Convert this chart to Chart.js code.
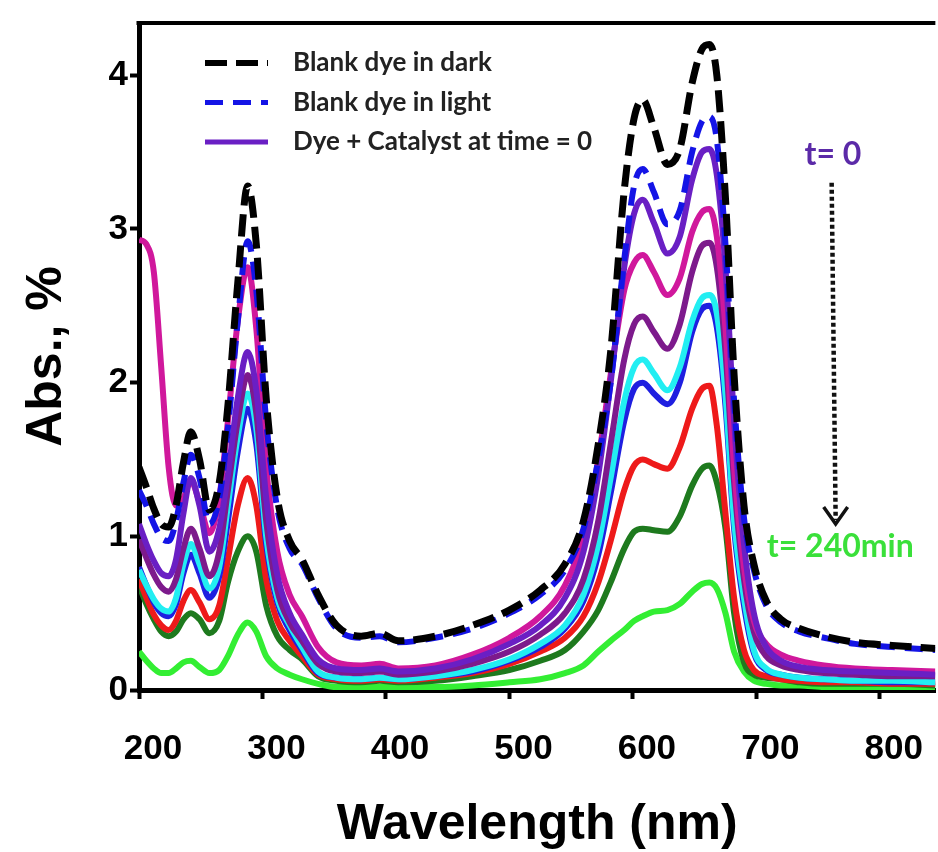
<!DOCTYPE html>
<html>
<head>
<meta charset="utf-8">
<script src="https://cdn.jsdelivr.net/npm/chart.js@4.4.0/dist/chart.umd.min.js"></script>
<style>
  html, body { margin: 0; padding: 0; background: #fff; }
  #wrap { width: 938px; height: 852px; position: relative; }
</style>
</head>
<body>
<div id="wrap"><canvas id="uv-chart"></canvas></div>
<script>
// wavelength grid (nm) shared by all spectra
const wavelengths = [200, 206, 212, 218, 224, 230, 236, 242, 249, 257, 265, 272, 280, 288, 295, 303, 312, 322, 332, 345,
  360, 380, 395, 410, 440, 470, 500, 525, 545, 560, 572, 582, 593, 601, 608, 617, 628, 638, 648, 656,
  662, 668, 675, 682, 690, 698, 708, 720, 735, 755, 780, 810, 845];

const blankDark = [1.45, 1.32, 1.18, 1.08, 1.06, 1.2, 1.48, 1.68, 1.5, 1.17, 1.35, 1.85, 2.65, 3.28, 2.9, 1.9, 1.25, 0.97, 0.85, 0.62,
  0.42, 0.35, 0.37, 0.32, 0.35, 0.42, 0.52, 0.65, 0.82, 1.1, 1.6, 2.2, 3.25, 3.72, 3.84, 3.66, 3.42, 3.52, 3.95, 4.17,
  4.2, 4.0, 3.2, 2.05, 1.2, 0.82, 0.58, 0.46, 0.4, 0.35, 0.31, 0.29, 0.27];
const blankLight = [1.3, 1.2, 1.08, 0.99, 0.97, 1.1, 1.35, 1.53, 1.38, 1.08, 1.25, 1.7, 2.4, 2.92, 2.6, 1.75, 1.18, 0.92, 0.82, 0.6,
  0.4, 0.34, 0.35, 0.31, 0.34, 0.4, 0.5, 0.62, 0.78, 1.05, 1.5, 2.0, 2.8, 3.28, 3.39, 3.24, 3.03, 3.12, 3.5, 3.7,
  3.73, 3.58, 2.9, 1.88, 1.12, 0.78, 0.55, 0.44, 0.38, 0.34, 0.3, 0.28, 0.26];
const catT0 = [1.08, 0.95, 0.84, 0.76, 0.74, 0.85, 1.15, 1.38, 1.2, 0.9, 1.05, 1.4, 1.9, 2.2, 1.95, 1.25, 0.75, 0.5, 0.36, 0.2,
  0.14, 0.13, 0.14, 0.12, 0.14, 0.2, 0.3, 0.42, 0.6, 0.9, 1.4, 2.0, 2.75, 3.1, 3.19, 3.04, 2.84, 2.95, 3.32, 3.5,
  3.52, 3.35, 2.75, 1.75, 0.95, 0.5, 0.28, 0.19, 0.15, 0.13, 0.12, 0.11, 0.1];
const catMagenta = [2.93, 2.9, 2.72, 2.1, 1.45, 1.2, 1.25, 1.36, 1.22, 1.02, 1.25, 1.75, 2.4, 2.75, 2.35, 1.45, 0.9, 0.62, 0.48, 0.28,
  0.18, 0.16, 0.17, 0.14, 0.16, 0.23, 0.34, 0.48, 0.68, 1.0, 1.5, 2.05, 2.6, 2.78, 2.83, 2.72, 2.57, 2.68, 2.98, 3.11,
  3.13, 2.95, 2.35, 1.45, 0.8, 0.45, 0.3, 0.23, 0.19, 0.16, 0.14, 0.13, 0.12];
const catDarkPurple = [0.98, 0.86, 0.75, 0.67, 0.64, 0.72, 0.92, 1.05, 0.92, 0.74, 0.9, 1.3, 1.75, 2.05, 1.8, 1.1, 0.65, 0.44, 0.32, 0.17,
  0.12, 0.11, 0.12, 0.1, 0.12, 0.17, 0.25, 0.36, 0.5, 0.72, 1.1, 1.6, 2.15, 2.38, 2.43, 2.33, 2.22, 2.38, 2.72, 2.89,
  2.91, 2.75, 2.2, 1.35, 0.72, 0.38, 0.22, 0.16, 0.13, 0.11, 0.1, 0.09, 0.09];
const catCyan = [0.78, 0.68, 0.59, 0.53, 0.51, 0.6, 0.82, 0.95, 0.82, 0.66, 0.8, 1.2, 1.65, 1.93, 1.7, 1.0, 0.6, 0.42, 0.28, 0.12,
  0.08, 0.07, 0.08, 0.07, 0.09, 0.13, 0.2, 0.3, 0.42, 0.62, 0.95, 1.38, 1.88, 2.1, 2.15, 2.06, 1.95, 2.1, 2.4, 2.55,
  2.57, 2.45, 1.92, 1.1, 0.6, 0.26, 0.14, 0.1, 0.08, 0.07, 0.06, 0.06, 0.05];
const catBlue = [0.8, 0.68, 0.57, 0.5, 0.48, 0.56, 0.76, 0.88, 0.76, 0.6, 0.74, 1.1, 1.55, 1.83, 1.6, 0.95, 0.57, 0.39, 0.26, 0.11,
  0.08, 0.07, 0.08, 0.07, 0.09, 0.12, 0.19, 0.28, 0.4, 0.58, 0.88, 1.28, 1.75, 1.96, 2.0, 1.93, 1.86, 2.0, 2.33, 2.48,
  2.5, 2.36, 1.85, 1.05, 0.55, 0.24, 0.13, 0.1, 0.08, 0.07, 0.06, 0.05, 0.05];
const catRed = [0.72, 0.6, 0.49, 0.42, 0.39, 0.45, 0.58, 0.65, 0.57, 0.46, 0.55, 0.85, 1.2, 1.38, 1.2, 0.72, 0.45, 0.32, 0.22, 0.1,
  0.07, 0.06, 0.07, 0.06, 0.08, 0.11, 0.17, 0.25, 0.34, 0.48, 0.7, 0.97, 1.3, 1.46, 1.5, 1.47, 1.44, 1.58, 1.83, 1.96,
  1.98, 1.72, 1.15, 0.6, 0.26, 0.13, 0.09, 0.07, 0.06, 0.05, 0.05, 0.04, 0.04];
const catDarkGreen = [0.68, 0.56, 0.46, 0.38, 0.35, 0.38, 0.46, 0.5, 0.46, 0.37, 0.45, 0.7, 0.9, 1.0, 0.9, 0.55, 0.35, 0.26, 0.2, 0.09,
  0.06, 0.05, 0.06, 0.05, 0.06, 0.09, 0.13, 0.19, 0.26, 0.38, 0.52, 0.7, 0.92, 1.03, 1.05, 1.04, 1.03, 1.13, 1.33, 1.44,
  1.46, 1.35, 1.05, 0.5, 0.18, 0.1, 0.08, 0.07, 0.05, 0.04, 0.04, 0.04, 0.03];
const cat240 = [0.25, 0.19, 0.14, 0.11, 0.11, 0.14, 0.18, 0.19, 0.15, 0.11, 0.13, 0.22, 0.36, 0.44, 0.38, 0.22, 0.14, 0.1, 0.07, 0.04,
  0.02, 0.02, 0.02, 0.02, 0.02, 0.03, 0.05, 0.07, 0.11, 0.16, 0.25, 0.32, 0.39, 0.45, 0.48, 0.51, 0.52, 0.56, 0.64, 0.69,
  0.7, 0.66, 0.5, 0.25, 0.12, 0.06, 0.04, 0.03, 0.03, 0.02, 0.02, 0.02, 0.02];

const xTicks = [200, 300, 400, 500, 600, 700, 800];
const yTicks = [0, 1, 2, 3, 4];
const legendCount = 3;

const FONT = "'Liberation Sans', Arial, sans-serif";
const LEGEND_FONT = "Lato, 'Open Sans', sans-serif";

function pts(values) {
  return values.map((v, i) => ({ x: wavelengths[i], y: v }));
}

function spectrum(label, values, color, width, dash) {
  return {
    label: label,
    data: pts(values),
    borderColor: color,
    backgroundColor: color,
    borderWidth: width,
    borderDash: dash || [],
    pointRadius: 0,
    cubicInterpolationMode: 'monotone',
    fill: false
  };
}

// first dataset is drawn on top
const datasets = [
  spectrum('Blank dye in dark', blankDark, '#000000', 7, [22, 9]),
  spectrum('Blank dye in light', blankLight, '#1414e6', 6, [18, 10]),
  spectrum('Dye + Catalyst at time = 0', catT0, '#6a1fc4', 6),
  spectrum('15 min', catMagenta, '#d0189c', 6),
  spectrum('30 min', catDarkPurple, '#7d1a8c', 6),
  spectrum('60 min', catCyan, '#22eef2', 6),
  spectrum('90 min', catBlue, '#1f1fe0', 6),
  spectrum('120 min', catRed, '#ee1a1a', 6),
  spectrum('180 min', catDarkGreen, '#1e7a1e', 6),
  spectrum('240 min', cat240, '#33ee33', 6)
];

const overlay = {
  id: 'overlay',
  afterDraw(chart) {
    const { ctx, chartArea, scales } = chart;
    const x = scales.x, y = scales.y;
    ctx.save();

    // top frame line
    ctx.strokeStyle = '#000';
    ctx.lineWidth = 4;
    ctx.beginPath();
    ctx.moveTo(chartArea.left - 2.5, chartArea.top);
    ctx.lineTo(chartArea.right, chartArea.top);
    ctx.stroke();

    // legend
    ctx.font = 'bold 26px ' + LEGEND_FONT;
    ctx.textBaseline = 'middle';
    ctx.textAlign = 'left';
    for (let i = 0; i < legendCount; i++) {
      const ds = chart.data.datasets[i];
      const rowY = 63 + i * 39.5;
      ctx.strokeStyle = ds.borderColor;
      ctx.lineWidth = ds.borderWidth - 1;
      ctx.setLineDash(ds.borderDash);
      ctx.beginPath();
      ctx.moveTo(205, rowY);
      ctx.lineTo(268, rowY);
      ctx.stroke();
      ctx.setLineDash([]);
      ctx.fillStyle = '#222';
      ctx.fillText(ds.label, 293, rowY);
    }

    // time arrow
    const ax = x.getPixelForValue(761);
    const ay0 = y.getPixelForValue(3.3);
    const ay1 = y.getPixelForValue(1.08);
    ctx.strokeStyle = '#111';
    ctx.lineWidth = 4.5;
    ctx.setLineDash([4, 3]);
    ctx.beginPath();
    ctx.moveTo(ax, ay0);
    ctx.lineTo(ax + 4, ay1 - 4);
    ctx.stroke();
    ctx.setLineDash([]);
    ctx.lineWidth = 3.5;
    ctx.beginPath();
    ctx.moveTo(ax - 8, ay1 - 17);
    ctx.lineTo(ax + 4, ay1);
    ctx.lineTo(ax + 16, ay1 - 17);
    ctx.stroke();

    ctx.font = 'bold 32px ' + LEGEND_FONT;
    ctx.textAlign = 'center';
    ctx.fillStyle = '#5b2aa8';
    ctx.fillText('t= 0', x.getPixelForValue(762), y.getPixelForValue(3.48));
    ctx.fillStyle = '#3ae03a';
    ctx.fillText('t= 240min', x.getPixelForValue(768), y.getPixelForValue(0.93));
    ctx.restore();
  }
};

const uvChart = new Chart(document.getElementById('uv-chart'), {
  type: 'line',
  data: { datasets: datasets },
  plugins: [overlay],
  options: {
    responsive: true,
    maintainAspectRatio: false,
    animation: false,
    devicePixelRatio: 1,
    layout: { padding: { top: 15, right: 0, bottom: 0, left: 0 } },
    plugins: { legend: { display: false }, tooltip: { enabled: false } },
    scales: {
      x: {
        type: 'linear',
        min: 200,
        max: 845,
        afterBuildTicks: axis => { axis.ticks = xTicks.map(v => ({ value: v })); },
        afterFit: axis => { axis.height = 162; },
        ticks: {
          color: '#000',
          font: { family: FONT, size: 35, weight: 'bold' },
          labelOffset: 14,
          padding: 29,
          maxRotation: 0,
          autoSkip: false
        },
        grid: { drawOnChartArea: false, drawTicks: true, tickLength: 9, tickWidth: 4, tickColor: '#000' },
        border: { display: true, color: '#000', width: 5 },
        title: {
          display: true,
          text: 'Wavelength (nm)',
          color: '#000',
          font: { family: FONT, size: 50, weight: 'bold', lineHeight: 1 },
          padding: { top: 0, bottom: 2 }
        }
      },
      y: {
        min: 0,
        max: 4.34,
        afterBuildTicks: axis => { axis.ticks = yTicks.map(v => ({ value: v })); },
        afterFit: axis => { axis.width = 139; },
        ticks: {
          color: '#000',
          font: { family: FONT, size: 35, weight: 'bold' },
          padding: 2
        },
        grid: { drawOnChartArea: false, drawTicks: true, tickLength: 9, tickWidth: 4, tickColor: '#000' },
        border: { display: true, color: '#000', width: 5 },
        title: {
          display: true,
          text: 'Abs., %',
          color: '#000',
          font: { family: FONT, size: 50, weight: 'bold', lineHeight: 1 },
          padding: { top: 22, bottom: 0 }
        }
      }
    }
  }
});
</script>
</body>
</html>
